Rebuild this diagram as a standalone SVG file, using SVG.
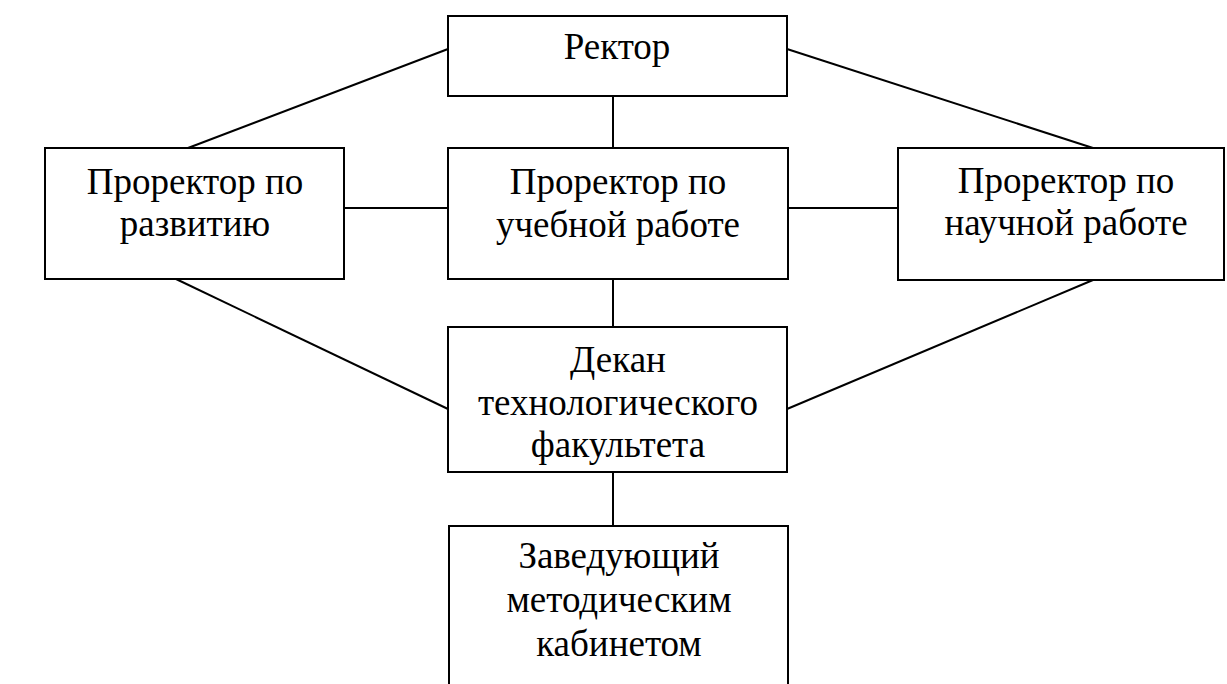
<svg xmlns="http://www.w3.org/2000/svg" width="1227" height="684" viewBox="0 0 1227 684">
<style>
.box{fill:#fff;stroke:#000;stroke-width:2}
.ln{stroke:#000;stroke-width:2;fill:none}
.t{font-family:'Liberation Serif','Times New Roman',serif;font-size:37px;fill:#000;text-anchor:middle}
</style>
<rect width="1227" height="684" fill="#fff"/>
<g id="connectors">
<line class="ln" x1="448" y1="49" x2="188" y2="148"/>
<line class="ln" x1="787" y1="49" x2="1093" y2="148"/>
<line class="ln" x1="613" y1="96" x2="613" y2="148"/>
<line class="ln" x1="344" y1="208" x2="448" y2="208"/>
<line class="ln" x1="788" y1="208" x2="898" y2="208"/>
<line class="ln" x1="613" y1="279" x2="613" y2="327"/>
<line class="ln" x1="176" y1="279" x2="448" y2="409"/>
<line class="ln" x1="1093" y1="280" x2="787" y2="409"/>
<line class="ln" x1="613" y1="472" x2="613" y2="526"/>
</g>
<g id="rector">
<rect class="box" x="448" y="16" width="339" height="80"/>
<text class="t" x="617" y="59">Ректор</text>
</g>
<g id="prorector-development">
<rect class="box" x="45" y="148" width="299" height="131"/>
<text class="t" x="195" y="194">Проректор по</text>
<text class="t" x="195" y="236">развитию</text>
</g>
<g id="prorector-education">
<rect class="box" x="448" y="148" width="340" height="131"/>
<text class="t" x="618" y="194">Проректор по</text>
<text class="t" x="618" y="237">учебной работе</text>
</g>
<g id="prorector-science">
<rect class="box" x="898" y="148" width="326" height="132"/>
<text class="t" x="1066" y="193">Проректор по</text>
<text class="t" x="1066" y="235">научной работе</text>
</g>
<g id="dean">
<rect class="box" x="448" y="327" width="339" height="145"/>
<text class="t" x="618" y="372">Декан</text>
<text class="t" x="618" y="415">технологического</text>
<text class="t" x="618" y="457">факультета</text>
</g>
<g id="methodical-head">
<rect class="box" x="449" y="526" width="339" height="170"/>
<text class="t" x="619" y="568">Заведующий</text>
<text class="t" x="619" y="612">методическим</text>
<text class="t" x="619" y="656">кабинетом</text>
</g>
</svg>
